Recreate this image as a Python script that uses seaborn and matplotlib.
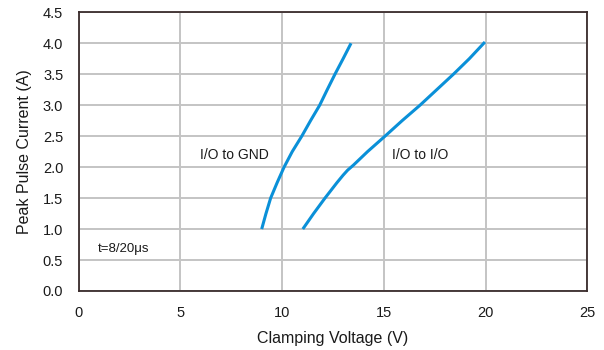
import matplotlib
matplotlib.use("Agg")
import matplotlib.pyplot as plt
import seaborn as sns
import pandas as pd

# I/O to GND clamping curve
gnd_voltage = [9.0, 9.21, 9.44, 9.76, 10.1, 10.5, 10.97, 11.4, 11.85, 12.22, 12.6, 13.0, 13.39]
gnd_current = [1.0, 1.25, 1.5, 1.75, 2.0, 2.25, 2.5, 2.75, 3.0, 3.25, 3.5, 3.75, 4.0]

# I/O to I/O clamping curve
io_voltage = [11.02, 11.55, 12.11, 12.7, 13.0, 13.22, 13.5, 14.2, 15.06, 15.9, 16.78, 17.6, 18.42, 19.2, 19.97]
io_current = [1.0, 1.25, 1.5, 1.75, 1.87, 1.95, 2.03, 2.25, 2.5, 2.75, 3.0, 3.25, 3.5, 3.75, 4.02]

x_ticks = [0, 5, 10, 15, 20, 25]
y_ticks = [0.0, 0.5, 1.0, 1.5, 2.0, 2.5, 3.0, 3.5, 4.0, 4.5]

df = pd.concat([
    pd.DataFrame({"V": gnd_voltage, "I": gnd_current, "path": "I/O to GND"}),
    pd.DataFrame({"V": io_voltage, "I": io_current, "path": "I/O to I/O"}),
])

sns.set_style("white")
plt.rcParams["font.family"] = ["Liberation Sans", "DejaVu Sans"]

fig = plt.figure(figsize=(6.04, 3.5), dpi=100)
ax = fig.add_axes([0.130, 0.1686, 0.8424, 0.7963])

blue = "#0a90d8"
sns.lineplot(data=df, x="V", y="I", units="path", estimator=None, sort=False,
             color=blue, linewidth=2.2, ax=ax, legend=False)
for line in ax.lines:
    line.set_solid_joinstyle("round")
    line.set_solid_capstyle("butt")

ax.set_xlim(0, 25)
ax.set_ylim(0, 4.5)
ax.set_xticks(x_ticks)
ax.set_xticklabels([str(t) for t in x_ticks])
ax.set_yticks(y_ticks)
ax.set_yticklabels([f"{t:.1f}" for t in y_ticks])
ax.grid(True, color="#c4c4c4", linewidth=1.4)
ax.set_axisbelow(True)
for s in ax.spines.values():
    s.set_color("#3a2c2c")
    s.set_linewidth(1.3)
ax.tick_params(axis="both", length=0, labelsize=10.5, colors="#1a1a1a")
ax.tick_params(axis="y", pad=11)
ax.tick_params(axis="x", pad=11)

ax.set_xlabel("Clamping Voltage (V)", fontsize=11.5, color="#1a1a1a", labelpad=8)
ax.set_ylabel("Peak Pulse Current (A)", fontsize=11.5, color="#1a1a1a", labelpad=8)

ax.text(5.97, 2.19, "I/O to GND", fontsize=10, color="#1a1a1a", va="center", ha="left")
ax.text(15.4, 2.19, "I/O to I/O", fontsize=10, color="#1a1a1a", va="center", ha="left")
ax.text(0.96, 0.68, "t=8/20μs", fontsize=9.5, color="#1a1a1a", va="center", ha="left")

fig.savefig("out.png", dpi=100)
